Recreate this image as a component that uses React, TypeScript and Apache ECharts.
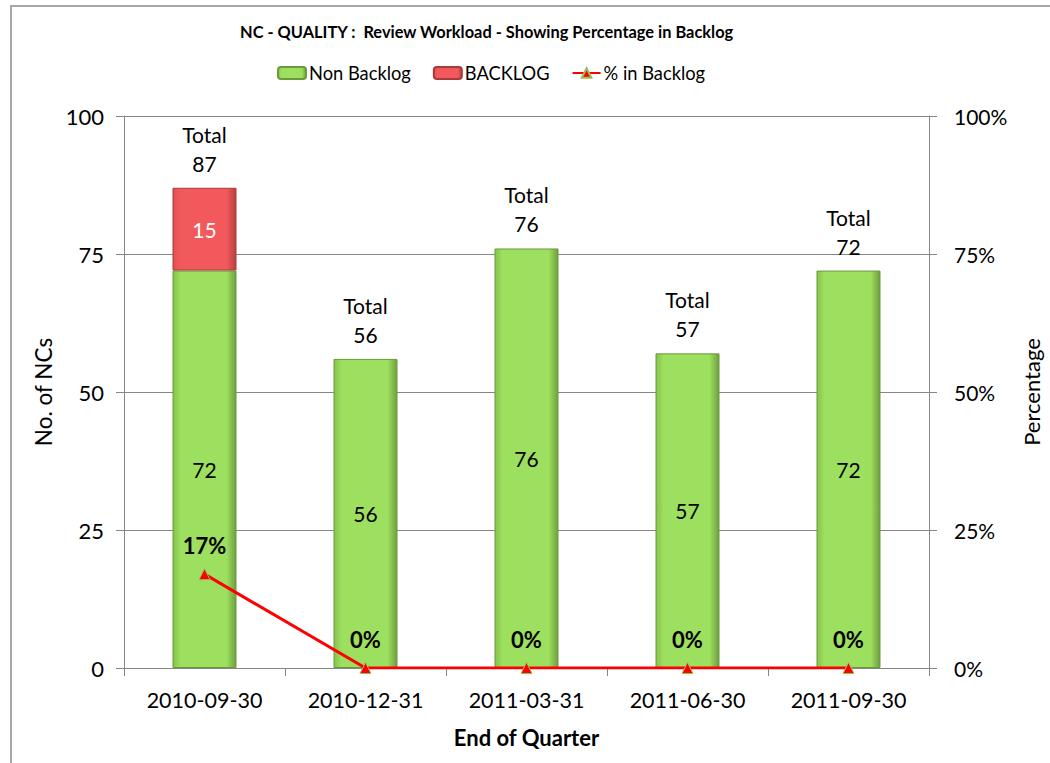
import React, { useEffect, useRef } from "react";
import * as echarts from "echarts";

const categories = ["2010-09-30", "2010-12-31", "2011-03-31", "2011-06-30", "2011-09-30"];
const nonBacklog = [72, 56, 76, 57, 72];
const backlog = [15, 0, 0, 0, 0];
const totals = [87, 56, 76, 57, 72];
const pctBacklog = [0.17, 0, 0, 0, 0];
const leftTicks = [0, 25, 50, 75, 100];

const FONT = "Lato, 'Open Sans', sans-serif";

export default function App() {
  const ref = useRef<HTMLDivElement>(null);
  useEffect(() => {
    const chart = echarts.init(ref.current!, null, { renderer: "svg" });
    const greenGrad = new echarts.graphic.LinearGradient(0, 0, 1, 0, [
      { offset: 0, color: "#86c24d" },
      { offset: 0.12, color: "#9ddf5e" },
      { offset: 0.85, color: "#9ddf5e" },
      { offset: 1, color: "#6f9e40" },
    ]);
    const redGrad = new echarts.graphic.LinearGradient(0, 0, 1, 0, [
      { offset: 0, color: "#e05053" },
      { offset: 0.12, color: "#f2595d" },
      { offset: 0.85, color: "#f2595d" },
      { offset: 1, color: "#b8403f" },
    ]);
    chart.setOption({
      animation: false,
      backgroundColor: "#ffffff",
      textStyle: { fontFamily: FONT },
      title: {
        text: "NC - QUALITY :  Review Workload - Showing Percentage in Backlog",
        left: 235,
        top: 18,
        textStyle: { fontFamily: FONT, fontSize: 16.4, fontWeight: "bold", color: "#000" },
      },
      legend: {
        data: ["Non Backlog", "BACKLOG", "% in Backlog"],
        left: 272,
        top: 59,
        itemWidth: 28,
        itemHeight: 12,
        itemGap: 22,
        textStyle: { fontFamily: FONT, fontSize: 18.3, color: "#000", padding: [0, 0, 0, -2] },
      },
      graphic: [
        {
          type: "rect",
          shape: { x: 11, y: 6, width: 1100, height: 800 },
          style: { fill: "none", stroke: "#a6a6a6", lineWidth: 2 },
          silent: true,
        },
      ],
      grid: { left: 124, right: 120, top: 116, bottom: 95 },
      xAxis: {
        type: "category",
        data: categories,
        name: "End of Quarter",
        nameLocation: "middle",
        nameGap: 58,
        nameTextStyle: { fontFamily: FONT, fontSize: 22, fontWeight: "bold", color: "#000" },
        axisLine: { lineStyle: { color: "#868686" } },
        axisTick: { show: true, length: 8, lineStyle: { color: "#868686" } },
        axisLabel: { fontFamily: FONT, fontSize: 21.5, color: "#000", margin: 21 },
      },
      yAxis: [
        {
          type: "value",
          min: 0,
          max: 100,
          interval: 25,
          name: "No. of NCs",
          nameLocation: "middle",
          nameGap: 68,
          nameTextStyle: { fontFamily: FONT, fontSize: 22.5, color: "#000" },
          axisLine: { show: true, lineStyle: { color: "#868686" } },
          axisTick: { show: true, inside: false, length: 8, lineStyle: { color: "#868686" } },
          axisLabel: {
            fontFamily: FONT,
            fontSize: 22,
            color: "#000",
            margin: 20,
            formatter: (v: number) => (leftTicks.includes(v) ? String(v) : ""),
          },
          splitLine: { show: true, lineStyle: { color: "#868686", width: 1 } },
        },
        {
          type: "value",
          min: 0,
          max: 1,
          interval: 0.25,
          name: "Percentage",
          nameLocation: "middle",
          nameGap: 91,
          nameTextStyle: { fontFamily: FONT, fontSize: 22, color: "#000" },
          axisLine: { show: true, lineStyle: { color: "#868686" } },
          axisTick: { show: true, length: 8, lineStyle: { color: "#868686" } },
          axisLabel: {
            fontFamily: FONT,
            fontSize: 21,
            color: "#000",
            margin: 25,
            formatter: (v: number) => Math.round(v * 100) + "%",
          },
          splitLine: { show: false },
        },
      ],
      series: [
        {
          name: "Non Backlog",
          type: "bar",
          stack: "nc",
          barWidth: 64,
          data: nonBacklog,
          itemStyle: { color: greenGrad, borderColor: "#6a9a3c", borderWidth: 1 },
          label: {
            show: true,
            position: "inside",
            fontFamily: FONT,
            fontSize: 21,
            color: "#000",
          },
        },
        {
          name: "BACKLOG",
          type: "bar",
          stack: "nc",
          barWidth: 64,
          data: backlog.map((v) =>
            v === 0 ? { value: v, itemStyle: { color: "transparent", borderWidth: 0 } } : v
          ),
          itemStyle: { color: redGrad, borderColor: "#a83a3c", borderWidth: 1 },
          label: {
            show: true,
            position: "inside",
            fontFamily: FONT,
            fontSize: 21,
            color: "#fff",
            formatter: (p: any) => (p.value ? String(p.value) : ""),
          },
        },
        {
          name: "Total",
          type: "bar",
          stack: "nc",
          barWidth: 64,
          data: totals.map(() => 0),
          itemStyle: { color: "transparent", borderWidth: 0 },
          label: {
            show: true,
            position: "top",
            distance: 10,
            fontFamily: FONT,
            fontSize: 21,
            lineHeight: 29,
            color: "#000",
            align: "center",
            formatter: (p: any) => "Total\n" + totals[p.dataIndex],
          },
          tooltip: { show: false },
        },
        {
          name: "% in Backlog",
          type: "line",
          yAxisIndex: 1,
          data: pctBacklog,
          symbol: "triangle",
          symbolSize: 11,
          lineStyle: { color: "#ff0000", width: 3 },
          itemStyle: { color: "#ff0000", borderColor: "#9bbb59", borderWidth: 1 },
          label: {
            show: true,
            position: "top",
            distance: 12,
            fontFamily: FONT,
            fontSize: 22,
            fontWeight: "bold",
            color: "#000",
            formatter: (p: any) => Math.round(p.value * 100) + "%",
          },
          z: 5,
        },
      ],
    });
    return () => chart.dispose();
  }, []);
  return (
    <div
      ref={ref}
      style={{ position: "absolute", left: 0, top: 0, width: 1050, height: 763 }}
    />
  );
}
